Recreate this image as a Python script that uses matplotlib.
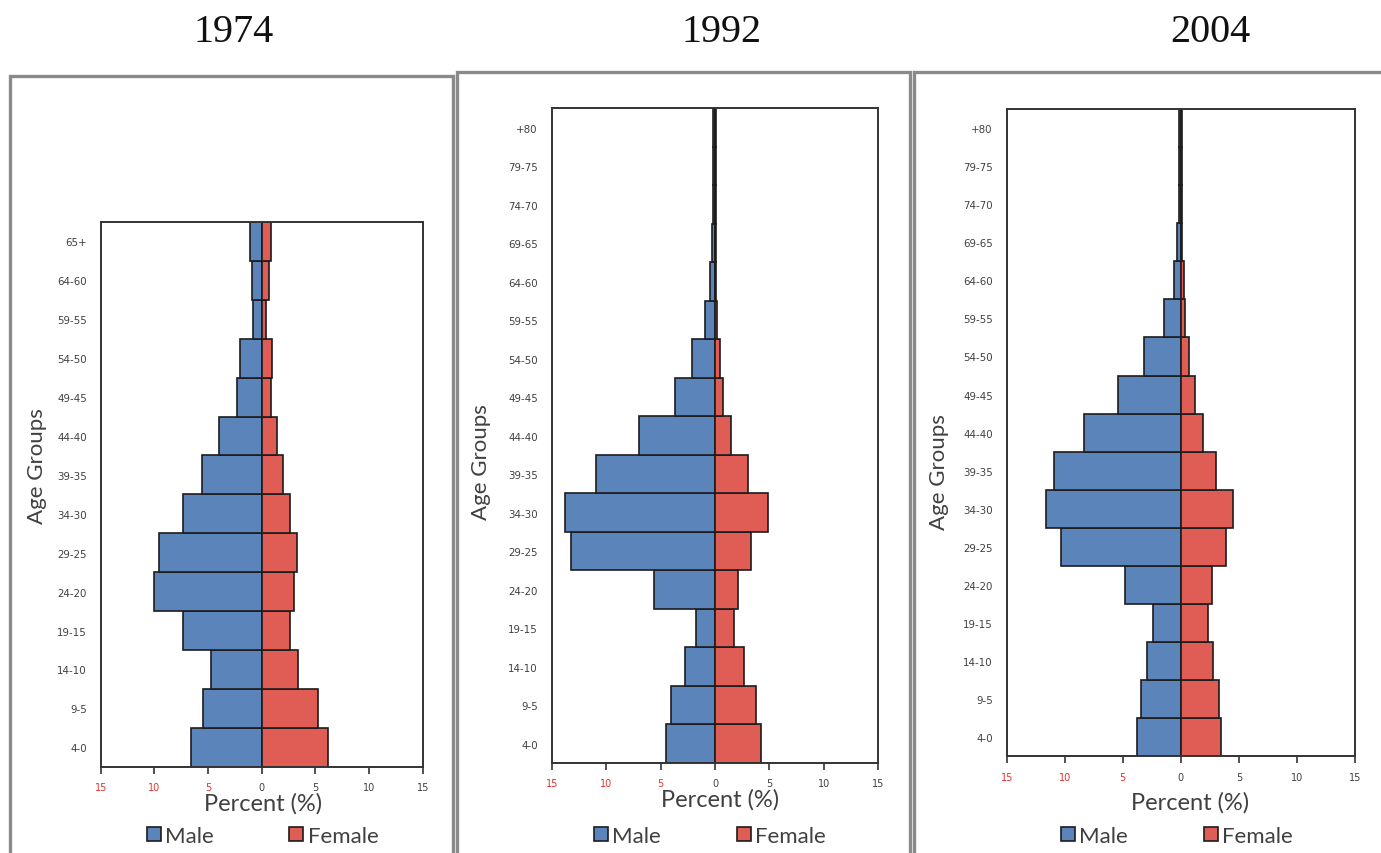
import matplotlib
matplotlib.use("Agg")
import matplotlib.pyplot as plt
from matplotlib.patches import Rectangle
import numpy as np

# ---- data -------------------------------------------------------------
years = ["1974", "1992", "2004"]

ages_1974 = ["4-0", "9-5", "14-10", "19-15", "24-20", "29-25", "34-30",
             "39-35", "44-40", "49-45", "54-50", "59-55", "64-60", "65+"]
ages_later = ["4-0", "9-5", "14-10", "19-15", "24-20", "29-25", "34-30",
              "39-35", "44-40", "49-45", "54-50", "59-55", "64-60",
              "69-65", "74-70", "79-75", "+80"]

male_1974 = [6.6, 5.5, 4.7, 7.3, 10.0, 9.6, 7.3, 5.6, 4.0, 2.3, 2.0, 0.8, 0.95, 1.05]
female_1974 = [6.2, 5.2, 3.4, 2.6, 3.0, 3.3, 2.6, 1.95, 1.4, 0.85, 1.0, 0.4, 0.65, 0.9]

male_1992 = [4.5, 4.0, 2.8, 1.75, 5.6, 13.25, 13.8, 10.9, 7.0, 3.7, 2.1, 0.9,
             0.45, 0.3, 0.15, 0.15, 0.15]
female_1992 = [4.2, 3.75, 2.7, 1.7, 2.15, 3.3, 4.85, 3.05, 1.5, 0.75, 0.45, 0.15,
               0.1, 0.1, 0.1, 0.1, 0.1]

male_2004 = [3.75, 3.4, 2.9, 2.4, 4.8, 10.3, 11.6, 10.95, 8.3, 5.45, 3.2, 1.45,
             0.55, 0.35, 0.15, 0.15, 0.15]
female_2004 = [3.5, 3.25, 2.8, 2.3, 2.65, 3.9, 4.5, 3.05, 1.95, 1.25, 0.7, 0.4,
               0.3, 0.1, 0.1, 0.1, 0.1]

x_ticks = [-15, -10, -5, 0, 5, 10, 15]

# ---- style ------------------------------------------------------------
MALE_C = "#5B84BA"
FEMALE_C = "#E05D56"
EDGE_C = "#1c1c1c"
TEXT_C = "#404040"
NEG_C = "#E0322B"
FRAME_C = "#8a8a8a"
LABEL_FONT = ["Lato", "DejaVu Sans"]
TICK_FONT = ["Liberation Sans Narrow", "DejaVu Sans"]

W, H = 1381, 854
fig = plt.figure(figsize=(W / 100, H / 100), dpi=100)
fig.patch.set_facecolor("white")


def fx(x):
    return x / W


def fy(y):
    return 1 - y / H


def rect_px(x0, y0, x1, y1):
    return [fx(x0), fy(y1), fx(x1) - fx(x0), fy(y0) - fy(y1)]


# panel layout in pixels
panels = [
    dict(year=years[0], ages=ages_1974, male=male_1974, female=female_1974,
         ax=(100.7, 223, 422.7, 767.7), frame=(9.5, 77, 453), title_x=234,
         ylab=(37, 466), xlab=(263, 804), leg_x=146.5),
    dict(year=years[1], ages=ages_later, male=male_1992, female=female_1992,
         ax=(551.7, 109.3, 878.3, 764), frame=(456.5, 73, 910), title_x=722,
         ylab=(481, 462), xlab=(720, 800), leg_x=594),
    dict(year=years[2], ages=ages_later, male=male_2004, female=female_2004,
         ax=(1006.7, 110, 1355, 757.3), frame=(914, 73, 1395), title_x=1210,
         ylab=(939, 472), xlab=(1190, 803), leg_x=1061),
]

for p in panels:
    # outer grey frame of each chart
    x0, y0, x1 = p["frame"]
    fig.patches.append(Rectangle((fx(x0), fy(H + 20)), fx(x1) - fx(x0), fy(y0) - fy(H + 20),
                                 transform=fig.transFigure, fill=False,
                                 edgecolor=FRAME_C, linewidth=2.4, zorder=0))

    ax = fig.add_axes(rect_px(*p["ax"]))
    n = len(p["ages"])
    y = np.arange(n)
    male = np.array(p["male"])
    female = np.array(p["female"])
    hm = ax.barh(y, -male, height=1.0, color=MALE_C, edgecolor=EDGE_C,
                 linewidth=1.2, label="Male")
    hf = ax.barh(y, female, height=1.0, color=FEMALE_C, edgecolor=EDGE_C,
                 linewidth=1.2, label="Female")

    ax.set_xlim(-15, 15)
    ax.set_ylim(-0.5, n - 0.5)
    ax.set_yticks(y)
    ax.set_yticklabels(p["ages"], fontsize=7.4, color=TEXT_C, family=TICK_FONT)
    ax.tick_params(axis="y", length=0, pad=10)
    ax.set_xticks(x_ticks)
    ax.set_xticklabels([str(abs(t)) for t in x_ticks], fontsize=7,
                       family=TICK_FONT)
    for t, lab in zip(x_ticks, ax.get_xticklabels()):
        lab.set_color(NEG_C if t < 0 else TEXT_C)
    ax.tick_params(axis="x", direction="out", length=5, width=1.2,
                   color="#333333", pad=6)
    for s in ax.spines.values():
        s.set_color("#333333")
        s.set_linewidth(1.4)

    # titles and axis labels
    fig.text(fx(p["title_x"]), fy(42), p["year"], ha="center", va="baseline",
             fontsize=29, family=["Liberation Serif", "DejaVu Serif"], color="#111111")
    lx, ly = p["ylab"]
    fig.text(fx(lx), fy(ly), "Age Groups", rotation=90, ha="center", va="center",
             fontsize=16, family=LABEL_FONT, color=TEXT_C)
    px_, py_ = p["xlab"]
    fig.text(fx(px_), fy(py_), "Percent (%)", ha="center", va="center",
             fontsize=17, family=LABEL_FONT, color=TEXT_C)

    leg = ax.legend(handles=[hm, hf], labels=["Male", "Female"], ncol=2,
                    loc="center left", bbox_to_anchor=(fx(p["leg_x"]), fy(837)),
                    bbox_transform=fig.transFigure, frameon=False,
                    prop=dict(family=LABEL_FONT, size=16),
                    handlelength=0.63, handleheight=0.6, handletextpad=0.2,
                    columnspacing=3.4, borderpad=0, borderaxespad=0)
    for txt in leg.get_texts():
        txt.set_color(TEXT_C)

fig.savefig("out.png", dpi=100, facecolor="white")
